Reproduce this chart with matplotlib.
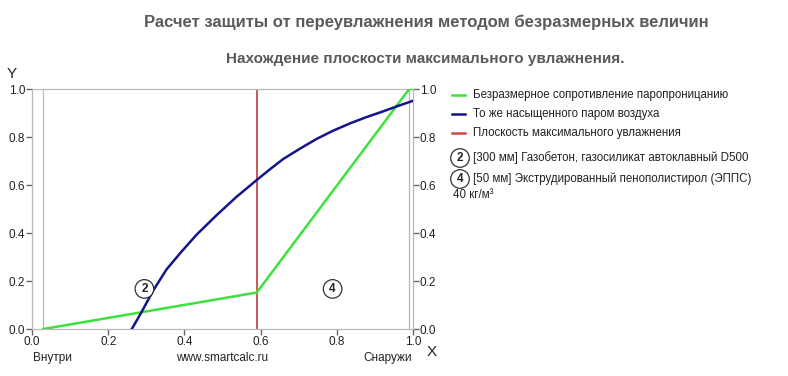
import matplotlib
matplotlib.use("Agg")
import matplotlib.pyplot as plt
from matplotlib.lines import Line2D

plt.rcParams['font.family'] = ['Liberation Sans', 'DejaVu Sans']

# Data
green_x = [0.03, 0.59, 0.99, 1.0]
green_y = [0.0, 0.152, 1.0, 1.0]
blue_x = [0.262, 0.288, 0.318, 0.353, 0.390, 0.432, 0.485, 0.537, 0.59, 0.625, 0.66, 0.705, 0.747, 0.79, 0.835, 0.878, 0.922, 0.96, 1.0]
blue_y = [0.0, 0.072, 0.160, 0.248, 0.318, 0.393, 0.475, 0.551, 0.621, 0.666, 0.709, 0.753, 0.792, 0.826, 0.857, 0.883, 0.907, 0.929, 0.951]
plane_x = 0.59
layer_bounds = [0.03, 0.99]
layer_labels = ['2', '4']
layer_label_x = [0.295, 0.789]
layer_label_y = [0.167, 0.167]
ticks = [0.0, 0.2, 0.4, 0.6, 0.8, 1.0]
tick_labels = ['0.0', '0.2', '0.4', '0.6', '0.8', '1.0']
legend_labels = ['Безразмерное сопротивление паропроницанию',
                 'То же насыщенного паром воздуха',
                 'Плоскость максимального увлажнения']
layer_desc = ['[300 мм] Газобетон, газосиликат автоклавный D500',
              '[50 мм] Экструдированный пенополистирол (ЭППС)\n40 кг/м³']

GREEN = '#3ee03e'
BLUE = '#14148c'
RED = '#c84a4a'
GRAY = '#b8b8b8'
TXT = '#222222'

fig = plt.figure(figsize=(7.88, 3.76), dpi=100)
ax = fig.add_axes([32/788, 1-329/376, 381/788, 240/376])
ax.set_xlim(0, 1)
ax.set_ylim(0, 1)

for b in layer_bounds:
    ax.axvline(b, color=GRAY, lw=0.9, zorder=1)
ax.plot(green_x, green_y, color=GREEN, lw=1.8, zorder=3, solid_joinstyle='round')
ax.plot(blue_x, blue_y, color=BLUE, lw=1.8, zorder=4, solid_joinstyle='round')
ax.axvline(plane_x, color=RED, lw=1.3, zorder=2)

for lab, lx, ly in zip(layer_labels, layer_label_x, layer_label_y):
    ax.text(lx, ly, lab, ha='center', va='center', fontsize=8.5, fontweight='bold', color=TXT,
            bbox=dict(boxstyle='circle,pad=0.28', fc='white', ec='#333333', lw=0.9), zorder=5)

for s in ax.spines.values():
    s.set_color(GRAY)
    s.set_linewidth(0.9)
ax.set_xticks(ticks)
ax.set_xticklabels(tick_labels)
ax.set_yticks(ticks)
ax.set_yticklabels(tick_labels)
ax.tick_params(axis='both', labelsize=8.5, colors='#666666', labelcolor=TXT, length=4, width=1, pad=1)
ax.tick_params(axis='y', left=True, right=True, labelleft=True, labelright=True)

fig.text(12/788, 1-74/376, 'Y', fontsize=11, color=TXT, ha='center', va='center')
fig.text(432/788, 1-352/376, 'X', fontsize=11, color=TXT, ha='center', va='center')
fig.text(52/788, 1-358/376, 'Внутри', fontsize=8.5, color=TXT, ha='center', va='center')
fig.text(222/788, 1-358/376, 'www.smartcalc.ru', fontsize=8.5, color=TXT, ha='center', va='center')
fig.text(388/788, 1-358/376, 'Снаружи', fontsize=8.5, color=TXT, ha='center', va='center')

fig.text(426/788, 1-22/376, 'Расчет защиты от переувлажнения методом безразмерных величин',
         fontsize=12, fontweight='bold', color='#5a5a5a', ha='center', va='center')
fig.text(425/788, 1-59/376, 'Нахождение плоскости максимального увлажнения.',
         fontsize=11, fontweight='bold', color='#5a5a5a', ha='center', va='center')

# legend
leg_colors = [GREEN, BLUE, RED]
leg_y = [95, 114, 133]
for c, lab, yy in zip(leg_colors, legend_labels, leg_y):
    fy = 1 - yy/376
    fig.add_artist(Line2D([452/788, 465/788], [fy, fy], color=c, lw=1.8))
    fig.text(473/788, fy, lab, fontsize=8.3, color=TXT, ha='left', va='center')

desc_y = [158, 179]
for lab, d, yy in zip(layer_labels, layer_desc, desc_y):
    fy = 1 - yy/376
    fig.text(460/788, fy, lab, fontsize=8.5, fontweight='bold', color=TXT, ha='center', va='center',
             bbox=dict(boxstyle='circle,pad=0.28', fc='white', ec='#333333', lw=0.9))
    if '\n' in d:
        first, second = d.split('\n')
        fig.text(473/788, fy, first, fontsize=8.3, color=TXT, ha='left', va='center')
        fig.text(453/788, 1 - 195/376, second, fontsize=8.3, color=TXT, ha='left', va='center')
    else:
        fig.text(473/788, fy, d, fontsize=8.3, color=TXT, ha='left', va='center')

fig.savefig('out.png', dpi=100)
